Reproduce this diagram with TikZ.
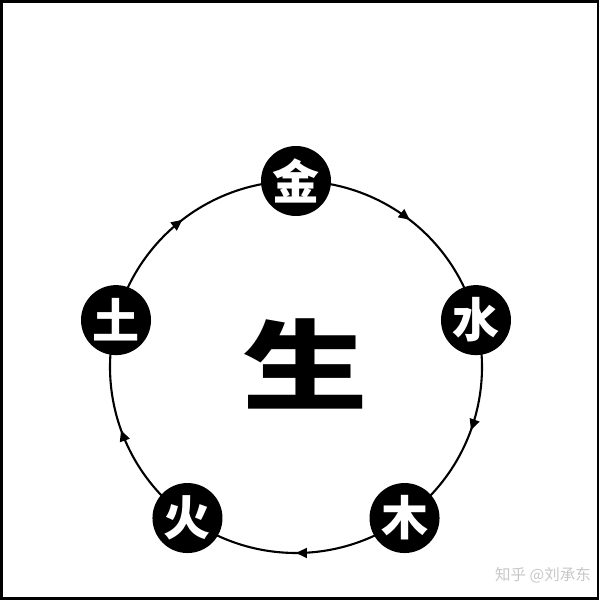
\documentclass[tikz,border=0pt]{standalone}
\usepackage{fontspec}
\newfontfamily\cjk{Noto Sans CJK SC}
\usetikzlibrary{arrows.meta,decorations.markings,calc}
\begin{document}
\begin{tikzpicture}[x=1pt,y=1pt,
  elem/.style={circle,fill=black,minimum size=70pt,inner sep=0pt,text=white,font=\cjk\bfseries\fontsize{47}{47}\selectfont},
  ring/.style={line width=2.1pt,postaction={decorate},decoration={markings,mark=at position 0.5 with {\arrow{Triangle[length=11pt,width=10pt]}}}}]
\useasboundingbox (0,0) rectangle (600,600);
\draw[line width=2.5pt] (1.5,1.5) rectangle (598,598.5);
\coordinate (c) at (296,233);
\def\R{186}
\coordinate (pj) at ($(c)+(90:\R)$);
\coordinate (ps) at ($(c)+(14.6:\R)$);
\coordinate (pm) at ($(c)+(-54.3:\R)$);
\coordinate (ph) at ($(c)+(-125.7:\R)$);
\coordinate (pt) at ($(c)+(165.4:\R)$);
\draw[ring] (pj) arc[start angle=90,end angle=14.6,radius=\R];
\draw[ring] (ps) arc[start angle=14.6,end angle=-54.3,radius=\R];
\draw[ring] (pm) arc[start angle=-54.3,end angle=-125.7,radius=\R];
\draw[ring] (ph) arc[start angle=-125.7,end angle=-194.6,radius=\R];
\draw[ring] (pt) arc[start angle=165.4,end angle=90,radius=\R];
\node[elem] (jin) at (pj) {金};
\node[elem] (shui) at (ps) {水};
\node[elem] (mu) at (pm) {木};
\node[elem] (huo) at (ph) {火};
\node[elem] (tu) at (pt) {土};
\node[font=\cjk\bfseries\fontsize{98}{98}\selectfont,inner sep=0pt] (sheng) at (305,236) {\scalebox{1.28}[1]{生}};
\node[font=\cjk\fontsize{15.5}{15.5}\selectfont,text=black!22,anchor=east,inner sep=0pt] (wm) at (591,25) {知乎 @刘承东};
\end{tikzpicture}
\end{document}
